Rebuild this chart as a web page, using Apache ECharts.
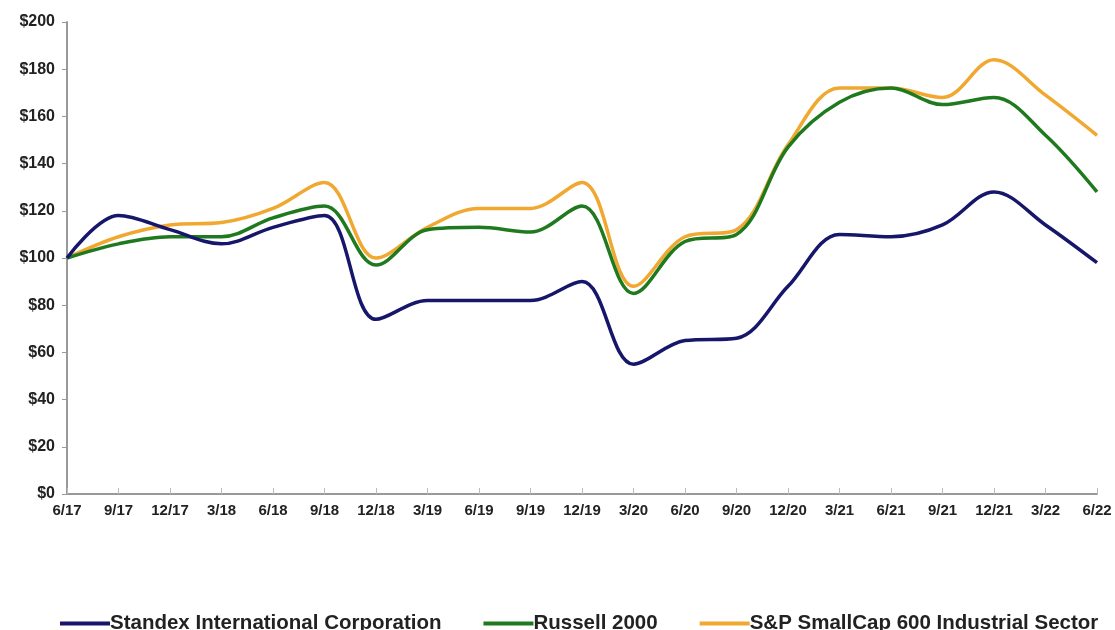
<!DOCTYPE html>
<html>
<head>
<meta charset="utf-8">
<script src="https://cdn.jsdelivr.net/npm/echarts@6/dist/echarts.min.js"></script>
<style>html,body{margin:0;padding:0;background:#fff}#c{width:1115px;height:630px}</style>
</head>
<body>
<div id="c"></div>
<script>
const categories = ['6/17','9/17','12/17','3/18','6/18','9/18','12/18','3/19','6/19','9/19','12/19','3/20','6/20','9/20','12/20','3/21','6/21','9/21','12/21','3/22','6/22'];
const standex = [100,118,112,106,113,118,74,82,82,82,90,55,65,66,88,110,109,114,128,114,98];
const russell = [100,106,109,109,117,122,97,112,113,111,122,85,107,110,147,166,172,165,168,152,128];
const spIndustrial = [100,109,114,115,121,132,100,113,121,121,132,88,109,112,148,172,172,168,184,169,152];
const seriesNames = ['Standex International Corporation','Russell 2000','S&P SmallCap 600 Industrial Sector'];
const colors = ['#16166b','#1f7a1f','#f0a830'];

const chart = echarts.init(document.getElementById('c'));
const font = '"Liberation Sans", Arial, sans-serif';
function mk(name, data, color) {
  return {
    name, type: 'line', data, smooth: 0.35, symbol: 'none',
    lineStyle: { width: 3.5, color }, itemStyle: { color }
  };
}
chart.setOption({
  animation: false,
  backgroundColor: '#fff',
  grid: { left: 67, right: 18, top: 22, bottom: 136 },
  xAxis: {
    type: 'category', data: categories, boundaryGap: false,
    axisLine: { lineStyle: { color: '#999', width: 2 } },
    axisTick: { inside: true, length: 6, lineStyle: { color: '#bbb' } },
    axisLabel: { color: '#222', fontWeight: 'bold', fontSize: 15, fontFamily: font, margin: 9, interval: 0 }
  },
  yAxis: {
    type: 'value', min: 0, max: 200, interval: 20,
    axisLine: { show: true, lineStyle: { color: '#999', width: 2 } },
    axisTick: { show: true, length: 5, lineStyle: { color: '#999' } },
    splitLine: { show: false },
    axisLabel: { color: '#222', fontWeight: 'bold', fontSize: 16, fontFamily: font, margin: 12, formatter: v => '$' + v }
  },
  legend: {
    left: 55, top: 608, itemWidth: 50, itemHeight: 4, itemGap: 42,
    icon: 'rect',
    textStyle: { fontWeight: 'bold', fontSize: 20.5, fontFamily: font, color: '#222', padding: [0,0,0,-5] },
    data: seriesNames
  },
  series: [
    mk(seriesNames[2], spIndustrial, colors[2]),
    mk(seriesNames[1], russell, colors[1]),
    mk(seriesNames[0], standex, colors[0])
  ]
});
</script>
</body>
</html>
